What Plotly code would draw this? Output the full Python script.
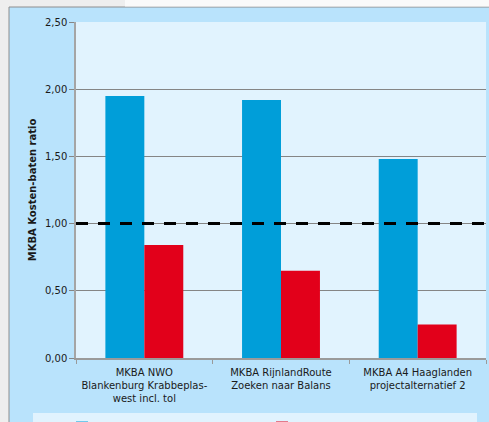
import plotly.graph_objects as go

# Projects (category labels) and the two benefit/cost ratios per project
categories = [
    "MKBA NWO<br>Blankenburg Krabbeplas-<br>west incl. tol",
    "MKBA RijnlandRoute<br>Zoeken naar Balans",
    "MKBA A4 Haaglanden<br>projectalternatief 2",
]
ratio_oei = [1.95, 1.92, 1.48]
ratio_alt = [0.84, 0.65, 0.25]
series_names = ["KB-ratio MKBA OEI", "KB-ratio MKBA LGS", "KB-ratio = 1"]
threshold = 1.0

y_ticks = [0, 0.5, 1.0, 1.5, 2.0, 2.5]
y_tick_text = ["0,00", "0,50", "1,00", "1,50", "2,00", "2,50"]

W, H = 489, 422
ML, MR, MT, MB = 76, 3, 22, 64
PW, PH = W - ML - MR, H - MT - MB


def px_x(x):
    return (x - ML) / PW


def px_y(y):
    return (H - MB - y) / PH


BLUE = "#009ed9"
RED = "#e2001a"
BOX = "#b9e3fc"
PLOT = "#e1f3fe"
GRID = "#858585"
FONT = "DejaVu Sans"

fig = go.Figure()
fig.add_trace(go.Bar(x=categories, y=ratio_oei, name=series_names[0],
                     marker=dict(color=BLUE, line=dict(width=0))))
fig.add_trace(go.Bar(x=categories, y=ratio_alt, name=series_names[1],
                     marker=dict(color=RED, line=dict(width=0))))
# break-even line across the full plot width
fig.add_trace(go.Scatter(x=[0, 1], y=[threshold, threshold], xaxis="x2",
                         mode="lines", name=series_names[2],
                         line=dict(color="black", width=3, dash="12px,10px")))

shapes = [
    # chart frame
    dict(type="rect", xref="paper", yref="paper", layer="below",
         x0=px_x(9), x1=px_x(W + 10), y0=px_y(H + 10), y1=px_y(7),
         fillcolor=BOX, line=dict(color="#8e8e8e", width=1)),
    # plot area background
    dict(type="rect", xref="paper", yref="paper", layer="below",
         x0=0, x1=1, y0=0, y1=1, fillcolor=PLOT, line=dict(width=0)),
    # legend panel
    dict(type="rect", xref="paper", yref="paper", layer="below",
         x0=px_x(33), x1=px_x(477), y0=px_y(H + 10), y1=px_y(413),
         fillcolor=PLOT, line=dict(width=0)),
    # light top strip of the page
    dict(type="rect", xref="paper", yref="paper", layer="below",
         x0=px_x(125), x1=px_x(W + 10), y0=px_y(6.5), y1=px_y(-5),
         fillcolor="#fafafa", line=dict(width=0)),
]

fig.update_layout(
    width=W, height=H,
    margin=dict(l=ML, r=MR, t=MT, b=MB, autoexpand=False),
    paper_bgcolor="#eeeeee",
    plot_bgcolor="rgba(0,0,0,0)",
    font=dict(family=FONT, size=10, color="#1a1a1a"),
    barmode="group",
    bargap=0.43,
    bargroupgap=0,
    shapes=shapes,
    showlegend=True,
    legend=dict(orientation="h", x=px_x(62), xanchor="left",
                y=px_y(413), yanchor="top", bgcolor="rgba(0,0,0,0)",
                font=dict(size=10, color="#1a1a1a"),
                entrywidth=155, entrywidthmode="pixels"),
    xaxis=dict(showline=True, linecolor="#9a9a9a", linewidth=1.5,
               ticks="outside", tickson="boundaries", ticklen=4,
               tickcolor="#9a9a9a", showgrid=False, ticklabelstandoff=4,
               tickfont=dict(size=10, color="#1a1a1a")),
    xaxis2=dict(overlaying="x", range=[0, 1], visible=False),
    yaxis=dict(range=[0, 2.5], tickvals=y_ticks, ticktext=y_tick_text,
               showgrid=True, gridcolor=GRID, gridwidth=1,
               showline=True, linecolor="#a5a5a5", linewidth=1.5,
               ticks="outside", ticklen=5, tickcolor=GRID,
               zeroline=False,
               tickfont=dict(size=10, color="#1a1a1a"),
               title=dict(text="<b>MKBA Kosten-baten ratio</b>", standoff=6,
                          font=dict(size=10, color="#1a1a1a"))),
)

fig.write_html("out.html")
